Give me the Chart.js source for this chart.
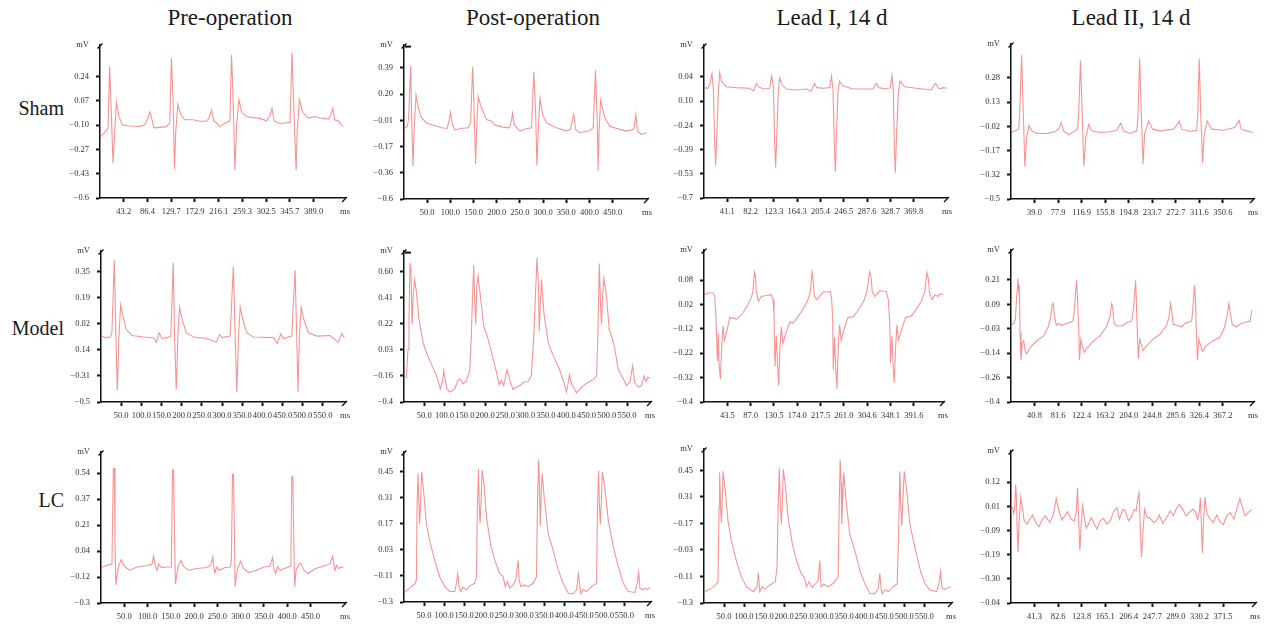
<!DOCTYPE html>
<html><head><meta charset="utf-8">
<script src="https://cdn.jsdelivr.net/npm/chart.js@4.4.1/dist/chart.umd.min.js"></script>
<style>
html,body{margin:0;padding:0;background:#fff;}
body{width:1265px;height:633px;position:relative;overflow:hidden;font-family:"Liberation Serif","Times New Roman",serif;color:#1a1a1a;}
.title{position:absolute;top:5px;font-size:23px;line-height:26px;white-space:nowrap;transform:translateX(-50%);}
.row{position:absolute;left:0;width:64px;text-align:right;font-size:20px;line-height:22px;white-space:nowrap;}
.panel{position:absolute;}
</style></head>
<body>
<script>
// ---------- text ----------
const columnTitles = ['Pre-operation','Post-operation','Lead I, 14 d','Lead II, 14 d'];
const groupNames = ['Sham','Model','LC'];

// ---------- tick labels ----------
const x50to450 = ['50.0','100.0','150.0','200.0','250.0','300.0','350.0','400.0','450.0'];
const x50to550 = ['50.0','100.0','150.0','200.0','250.0','300.0','350.0','400.0','450.0','500.0','550.0'];
const xShamPre = ['43.2','86.4','129.7','172.9','216.1','259.3','302.5','345.7','389.0'];
const xShamLeadI = ['41.1','82.2','123.3','164.3','205.4','246.5','287.6','328.7','369.8'];
const xShamLeadII = ['39.0','77.9','116.9','155.8','194.8','233.7','272.7','311.6','350.6'];
const xModelLeadI = ['43.5','87.0','130.5','174.0','217.5','261.0','304.6','348.1','391.6'];
const xModelLeadII = ['40.8','81.6','122.4','163.2','204.0','244.8','285.6','326.4','367.2'];
const xLcLeadII = ['41.3','82.6','123.8','165.1','206.4','247.7','289.0','330.2','371.5'];

const yShamPre = ['\u22120.6','\u22120.43','\u22120.27','\u22120.10','0.07','0.24'];
const yShamPost = ['\u22120.6','\u22120.36','\u22120.17','\u22120.01','0.20','0.39'];
const yShamLeadI = ['\u22120.7','\u22120.53','\u22120.39','\u22120.24','0.10','0.04'];
const yShamLeadII = ['\u22120.5','\u22120.32','\u22120.17','\u22120.02','0.13','0.28'];
const yModelPre = ['\u22120.5','\u22120.31','0.14','0.02','0.19','0.35'];
const yModelPost = ['\u22120.4','\u22120.16','0.03','0.22','0.41','0.60'];
const yModelLeadI = ['\u22120.4','\u22120.32','\u22120.22','\u22120.12','0.02','0.08'];
const yModelLeadII = ['\u22120.4','\u22120.26','\u22120.14','\u22120.03','0.09','0.21'];
const yLcPre = ['\u22120.3','\u22120.12','0.04','0.21','0.37','0.54'];
const yLcPost = ['\u22120.3','\u22120.11','0.03','0.17','0.31','0.45'];
const yLcLeadI = ['\u22120.3','\u22120.11','\u22120.03','\u22120.17','0.31','0.45'];
const yLcLeadII = ['\u22120.04','\u22120.30','\u22120.19','\u22120.09','0.01','0.12'];

// ---------- traces: [ms, mV] ----------
const shamPre = [[0,-0.18],[11.6,-0.135],[14.6,-0.12],[17.6,0.31],[20.7,-0.02],[23.7,-0.36],[26,-0.2],[29.8,0.06],[34.7,-0.04],[40.7,-0.096],[54,-0.103],[72,-0.105],[81.5,-0.094],[87.5,-0.044],[90.6,-0.005],[94,-0.048],[98,-0.116],[109,-0.112],[121,-0.107],[124,-0.095],[127,-0.085],[130,0.365],[133,0.09],[135.6,-0.40],[138,-0.135],[141.7,0.047],[146.5,-0.02],[154,-0.06],[169.6,-0.06],[181.8,-0.07],[194,-0.07],[199,-0.044],[203,0.008],[207,-0.067],[212,-0.08],[218,-0.107],[227,-0.085],[236.5,-0.067],[239.5,0.39],[242.5,0.047],[245.6,-0.407],[248.7,-0.09],[253,0.08],[258,-0.01],[267,-0.039],[291,-0.05],[303,-0.067],[309.5,-0.03],[313,0.02],[317,-0.067],[327.7,-0.085],[346,-0.078],[349.6,0.405],[353,0],[357,-0.407],[359,-0.135],[363,0.08],[369,-0.01],[379.5,-0.048],[391.5,-0.037],[400.7,-0.048],[416,-0.055],[420.7,-0.02],[423.8,0.02],[427.4,-0.062],[434,-0.067],[438,-0.09],[443,-0.105]];
const shamPost = [[0,-0.067],[7.2,-0.05],[10,0.01],[14.4,0.404],[17.2,-0.087],[19.4,-0.354],[22.3,-0.037],[25.9,0.186],[30.9,0.087],[38,0.013],[48.8,-0.025],[63,-0.042],[81,-0.062],[93,-0.067],[97.7,0],[100.5,0.055],[104,-0.037],[110,-0.079],[120.7,-0.067],[138.6,-0.062],[143.7,-0.025],[148,0.397],[149.4,0.285],[151.5,0.037],[154.4,-0.335],[156.6,-0.087],[160,0.174],[167,0.087],[178,0],[189,-0.012],[196,-0.042],[214,-0.057],[228,-0.062],[232,0],[234,0.05],[238,-0.042],[250,-0.087],[264,-0.069],[275,-0.062],[280,0.36],[284,0.037],[286.6,-0.347],[289.5,-0.087],[293,0.161],[299,0.037],[307.5,-0.025],[329,-0.062],[350.6,-0.087],[359,-0.074],[363.5,0],[366,0.042],[370,-0.074],[379,-0.099],[400.7,-0.082],[408,-0.062],[413,0.372],[416.5,0.013],[418.6,-0.384],[420.7,-0.087],[424,0.149],[433,0.013],[443.7,-0.05],[465.5,-0.074],[480,-0.087],[495.7,-0.074],[500,0.037],[503.6,-0.087],[512,-0.111],[523,-0.099]];
const shamLeadI = [[0,-0.026],[7,-0.03],[10,-0.01],[14,0.06],[16.5,-0.03],[18.8,-0.35],[20.6,-0.5],[23,-0.29],[25.3,-0.05],[27.6,0.066],[31,0.01],[39.4,-0.02],[57,-0.026],[80.6,-0.03],[87.6,-0.046],[92.3,0],[96.4,-0.02],[104,-0.034],[115.8,-0.03],[119.4,0.046],[122.3,-0.02],[124.7,-0.35],[126.4,-0.514],[128.8,-0.29],[131,-0.06],[133.5,0.034],[138,-0.01],[145,-0.034],[163,-0.04],[180.5,-0.034],[189,-0.046],[195,0],[199,-0.026],[210,-0.03],[221.7,-0.026],[225,0.046],[227.6,-0.04],[230,-0.37],[231.7,-0.54],[234,-0.29],[236.4,-0.05],[239.3,0.014],[245,-0.014],[263,-0.034],[286,-0.034],[298,-0.034],[304,0],[308.7,-0.026],[321.6,-0.034],[328.7,-0.026],[331.6,0.05],[334,-0.04],[335.7,-0.37],[337.5,-0.546],[340,-0.29],[343,-0.05],[346,0.014],[354,-0.02],[374.6,-0.03],[401,-0.04],[404,-0.02],[408.7,0],[412.8,-0.026],[417,-0.034],[421.6,-0.026],[428.7,-0.03]];
const shamLeadII = [[0,-0.072],[7,-0.061],[12.7,-0.05],[14.3,0.044],[17.6,0.428],[20.4,0.044],[23,-0.293],[25.9,-0.103],[29.7,-0.025],[34.7,-0.061],[43,-0.078],[59.4,-0.078],[73.2,-0.065],[78.7,-0.05],[83,-0.008],[87,-0.061],[95,-0.086],[106,-0.061],[110,-0.05],[112,0.044],[115,0.393],[117.8,0.044],[120.5,-0.289],[123.8,-0.103],[128.7,-0.019],[133.7,-0.061],[147.5,-0.072],[164,-0.067],[175,-0.057],[181.6,-0.013],[186,-0.061],[197,-0.078],[208,-0.061],[210,0.023],[212.9,0.403],[215.7,0.044],[218.5,-0.276],[221,-0.082],[227.8,0.002],[234.4,-0.05],[246.6,-0.061],[268.6,-0.05],[274,-0.025],[278.4,0.002],[282.4,-0.05],[296,-0.065],[307,-0.057],[309,0.044],[311.5,0.403],[314,0.044],[317,-0.268],[319.7,-0.082],[324.7,0.002],[332,-0.05],[351,-0.057],[370,-0.04],[377.5,0.006],[381,-0.05],[389.6,-0.061],[400.4,-0.072]];
const modelPre = [[0,-0.066],[10.7,-0.08],[23,-0.076],[27,-0.048],[33,0.425],[37,-0.07],[40.4,-0.425],[44.5,-0.07],[48.7,0.134],[54.5,0.059],[62.7,-0.027],[76.7,-0.066],[105.6,-0.076],[130,-0.08],[137,-0.109],[144,-0.048],[151,-0.087],[163,-0.08],[173,-0.07],[179,0.407],[182.3,-0.07],[186.5,-0.418],[190.6,-0.07],[194.7,0.119],[200.5,0.048],[211,-0.048],[229,-0.076],[262,-0.085],[285.5,-0.109],[293.7,-0.059],[300,-0.08],[320,-0.07],[328,0.386],[332.5,-0.07],[336.6,-0.435],[340.7,-0.07],[345,0.119],[350.6,0.048],[361,-0.048],[378,-0.076],[427,-0.08],[437,-0.117],[445.5,-0.055],[452,-0.087],[472.7,-0.07],[481,0.36],[485,-0.07],[488.4,-0.435],[491.7,-0.07],[496,0.119],[501.6,0.048],[514,-0.048],[534.6,-0.07],[567.6,-0.066],[588,-0.109],[596.5,-0.053],[603,-0.08]];
const modelPost = [[0,-0.175],[5.8,-0.175],[9.9,0.029],[12.3,0.245],[14.8,0.658],[17.3,0.605],[19.8,0.209],[23,0.437],[26.3,0.533],[30.5,0.449],[37,0.245],[47,0.077],[55,0.005],[67.5,-0.079],[80,-0.163],[89.7,-0.259],[94.6,-0.211],[98,-0.127],[101,-0.187],[106,-0.264],[114.4,-0.283],[125,-0.259],[133,-0.199],[137.4,-0.187],[145.7,-0.223],[154,-0.199],[162,-0.127],[166,0.125],[169.5,0.461],[172,0.641],[174.5,0.365],[177,0.209],[179.4,0.485],[182.7,0.562],[188.5,0.413],[196.7,0.197],[207.4,0.101],[218,-0.019],[228,-0.139],[234.6,-0.23],[240,-0.199],[246,-0.235],[254,-0.12],[261,-0.199],[269,-0.264],[277,-0.247],[285.6,-0.235],[295.5,-0.211],[306,-0.206],[314,-0.163],[320,0.125],[325,0.485],[328,0.696],[331.7,0.485],[333.4,0.161],[336.6,0.389],[339,0.538],[345,0.293],[355.5,0.077],[368,-0.019],[383,-0.115],[394,-0.211],[400.8,-0.283],[405,-0.211],[408,-0.158],[413,-0.223],[425.5,-0.288],[437.8,-0.247],[454,-0.211],[466.6,-0.192],[475,-0.163],[478,0.125],[481.5,0.653],[484.8,0.341],[487,0.209],[489.7,0.413],[493,0.545],[499.5,0.413],[506,0.173],[514,0.101],[520,0.029],[528,-0.115],[540.7,-0.187],[549,-0.235],[557,-0.211],[563.7,-0.091],[568.7,-0.211],[577.7,-0.247],[586,-0.235],[591.7,-0.163],[596.7,-0.206],[601.6,-0.175],[606.5,-0.182]];
const modelLeadI = [[0,0.024],[7.5,0.031],[16.8,0.031],[20,0.017],[21.8,-0.043],[23.6,-0.149],[25,-0.249],[26.7,-0.136],[28,-0.256],[30.5,-0.323],[33,-0.189],[35.5,-0.103],[38,-0.163],[41.7,-0.136],[48,-0.069],[54,-0.072],[61.6,-0.076],[72.8,-0.05],[82,-0.016],[88,0.011],[91.4,0.037],[94,0.117],[95.8,0.104],[97.7,0.037],[101.4,-0.003],[107,0.017],[116,0.021],[125.6,0.024],[128.8,0.004],[130.6,-0.056],[132.5,-0.269],[135,-0.143],[137.5,-0.276],[139.3,-0.349],[141.8,-0.189],[144.3,-0.109],[147.4,-0.176],[152.4,-0.136],[160,-0.089],[166,-0.093],[172,-0.076],[184.7,-0.036],[194,0.004],[198.4,0.037],[201.5,0.117],[203.4,0.091],[206,0.017],[211,0.004],[222,0.035],[235.7,0.037],[238,0.011],[240,-0.069],[241.3,-0.283],[243.8,-0.149],[246.3,-0.296],[248,-0.363],[250.7,-0.189],[253,-0.099],[256,-0.163],[260.6,-0.123],[268.7,-0.069],[278,-0.067],[287,-0.043],[298,-0.003],[304,0.037],[309,0.117],[311.6,0.097],[314,0.037],[318.6,0.017],[328,0.04],[340,0.037],[344,0.004],[346.5,-0.083],[348,-0.256],[350.6,-0.143],[353,-0.269],[355,-0.336],[357.6,-0.189],[360,-0.099],[362.6,-0.163],[368,-0.123],[376.3,-0.069],[387,-0.063],[396,-0.036],[405.5,-0.003],[412,0.037],[416,0.115],[418.6,0.091],[421,0.031],[426,0.004],[431,0.024],[436.7,0.017],[440,0.027],[446,0.024]];
const modelLeadII = [[0,-0.007],[4.6,-0.003],[7.5,0.017],[9.2,0.097],[12,0.218],[13.2,0.162],[14.4,0.186],[15.6,-0.048],[17.3,-0.184],[19.6,-0.096],[22,-0.088],[24.8,-0.144],[27.6,-0.152],[33.4,-0.12],[45,-0.088],[56.4,-0.064],[65,-0.015],[69,0.033],[71.4,0.089],[73,0.097],[75.5,0.033],[78.3,-0.012],[82.4,-0.003],[88,-0.012],[99.6,0.001],[107,0.009],[109.4,0.049],[113.5,0.21],[115.2,0.13],[117.5,-0.048],[118.7,-0.184],[121,-0.08],[123.3,-0.112],[126.7,-0.144],[131.3,-0.125],[142.8,-0.088],[154.4,-0.064],[166,-0.015],[171.6,0.033],[174.5,0.094],[176,0.081],[178.6,-0.003],[183,-0.015],[192,-0.015],[200.5,0.001],[209,0.009],[212,0.065],[216,0.21],[218.3,0.001],[220.6,-0.176],[223,-0.08],[225,-0.096],[229,-0.136],[235,-0.112],[246.5,-0.08],[258,-0.056],[269.6,-0.012],[274,0.033],[276.5,0.094],[279,0.049],[281,-0.007],[287,-0.012],[295.5,-0.019],[301.4,-0.003],[313,0.009],[314.5,0.049],[318,0.186],[319.7,0.097],[321.4,-0.064],[323,-0.184],[325.4,-0.08],[327,-0.096],[331.6,-0.141],[338.5,-0.112],[350,-0.088],[361.7,-0.072],[370,-0.023],[374.6,0.041],[377.5,0.094],[379.8,0.049],[383.3,-0.007],[390.5,-0.019],[399,-0.003],[407.8,0.004],[414.7,0.009],[417,0.062]];
const lcPre = [[0,-0.072],[12.9,-0.057],[21.5,-0.051],[23.6,-0.026],[26.5,0.565],[28.6,0.565],[30,0.101],[32,-0.184],[35,-0.11],[38.6,-0.057],[43.6,-0.021],[48.6,-0.057],[55.8,-0.078],[63,-0.089],[77,-0.068],[98.7,-0.059],[109.4,-0.051],[113,0],[116.5,-0.057],[120,-0.089],[124.4,-0.051],[129.4,-0.072],[141.6,-0.068],[151,-0.068],[153.7,0.555],[156,0.555],[158,0.101],[160,-0.178],[163,-0.11],[166.6,-0.057],[171.6,-0.026],[177.3,-0.064],[188,-0.089],[206,-0.078],[227,-0.072],[236,-0.057],[240,-0.005],[244,-0.106],[249,-0.068],[254,-0.089],[266.7,-0.072],[277.4,-0.068],[280,-0.026],[282.4,0.527],[284.6,0.527],[286.7,0.101],[288,-0.195],[291.7,-0.1],[295.3,-0.064],[299.6,-0.03],[306,-0.078],[316.7,-0.104],[334.6,-0.089],[349,-0.068],[363,-0.064],[368,-0.009],[372,-0.093],[375,-0.11],[379,-0.064],[384.7,-0.089],[399,-0.072],[407.6,-0.064],[409.7,0.512],[412,0.512],[414,0.101],[416,-0.195],[419,-0.089],[424,-0.057],[429,-0.043],[436,-0.089],[445.5,-0.11],[460,-0.078],[477.6,-0.064],[492,-0.047],[497.6,0],[502,-0.089],[506,-0.057],[510,-0.078],[517,-0.068],[520.5,-0.072]];
const lcPost = [[1.7,-0.194],[14,-0.171],[26.7,-0.149],[31,-0.128],[32.5,0.258],[35,0.441],[37.5,0.258],[39,0.17],[41,0.258],[44,0.45],[49,0.345],[56,0.17],[64,0.083],[76.7,-0.023],[89,-0.11],[101.6,-0.163],[114,-0.189],[126.6,-0.189],[131,-0.145],[134,-0.093],[137.5,-0.163],[141.7,-0.189],[147.5,-0.166],[156,-0.18],[164,-0.159],[176.7,-0.145],[181,-0.11],[183,0.258],[186,0.464],[188,0.258],[190,0.174],[192.4,0.293],[195,0.459],[200,0.38],[206,0.205],[216,0.065],[226.6,-0.023],[239,-0.093],[247.5,-0.11],[252.5,-0.163],[258,-0.136],[264,-0.171],[272.4,-0.154],[279,-0.128],[285,-0.023],[287.4,-0.128],[291.6,-0.163],[299,-0.154],[310,-0.163],[322.5,-0.145],[330.7,-0.11],[333,0.258],[336,0.517],[338,0.398],[340,0.161],[342.4,0.328],[345,0.441],[350,0.31],[360,0.118],[372.5,0.03],[385,-0.075],[397.5,-0.145],[410,-0.198],[422,-0.201],[431,-0.18],[435,-0.096],[439,-0.163],[441.5,-0.201],[447.3,-0.18],[455.6,-0.189],[468,-0.163],[480.6,-0.145],[483,0.258],[485.6,0.454],[488,0.258],[490,0.17],[492.5,0.293],[495,0.45],[501.6,0.363],[510,0.188],[522.5,0.048],[535,-0.058],[547.3,-0.145],[560,-0.189],[576.4,-0.194],[582.3,-0.145],[585.6,-0.089],[589,-0.171],[595.6,-0.18],[601.5,-0.171],[607.5,-0.18],[614,-0.166]];
const lcLeadI = [[1.7,-0.19],[14,-0.178],[26.7,-0.161],[35,-0.138],[37.5,0.251],[39,0.438],[41.6,0.251],[43.3,0.173],[45,0.251],[47.5,0.445],[53.3,0.338],[60,0.182],[68.3,0.078],[80.8,-0.026],[93.3,-0.112],[105.8,-0.164],[122.5,-0.19],[132.4,-0.164],[135.8,-0.091],[139,-0.19],[145,-0.164],[151.6,-0.178],[164,-0.156],[178,-0.138],[182.4,-0.06],[185,0.251],[188,0.462],[190.8,0.251],[193,0.168],[195.8,0.286],[198,0.455],[203,0.372],[210,0.199],[220.7,0.061],[230.7,-0.026],[243,-0.095],[251.6,-0.121],[255.7,-0.164],[262.4,-0.138],[270.7,-0.168],[279,-0.147],[285,-0.13],[289,-0.026],[292.4,-0.164],[299,-0.151],[310,-0.164],[322.4,-0.147],[335,-0.112],[337.4,0.251],[340,0.507],[342.4,0.389],[344,0.165],[346.5,0.32],[349,0.438],[354,0.303],[364,0.113],[376.5,0.026],[389,-0.078],[401.5,-0.147],[414,-0.199],[426.5,-0.202],[435,-0.173],[439,-0.095],[442.3,-0.173],[445,-0.202],[451.7,-0.181],[460,-0.19],[472.4,-0.164],[482.3,-0.15],[485.6,0.078],[489,0.445],[491.5,0.251],[494,0.156],[496.5,0.286],[500,0.445],[505.6,0.355],[514,0.165],[526.5,0.043],[539,-0.069],[551.5,-0.147],[564,-0.181],[580.6,-0.19],[587,-0.147],[590.6,-0.086],[594,-0.173],[601.4,-0.178],[607,-0.173],[616.4,-0.164]];
const lcLeadII = [[0,0.013],[2.9,0.006],[4.7,-0.019],[6.4,-0.001],[8.2,0.104],[9.3,0.062],[11,-0.106],[12.2,-0.183],[14,-0.064],[17,0.051],[20,0.006],[23,-0.05],[28,-0.064],[32.7,-0.043],[38,-0.025],[43,-0.057],[49,-0.075],[55,-0.043],[60.6,-0.029],[67.6,-0.057],[73.5,-0.029],[79.3,0.045],[84,-0.008],[89,-0.047],[94.5,-0.029],[99,-0.011],[105,-0.043],[110.8,-0.05],[114.3,-0.015],[116.6,0.09],[119,-0.078],[120.7,-0.176],[123,-0.064],[125.4,0.013],[128.3,-0.036],[131.8,-0.081],[136,-0.064],[140.5,-0.036],[144.6,-0.057],[150.5,-0.085],[156,-0.05],[162,-0.039],[168,-0.064],[173.8,-0.05],[179.6,-0.011],[185.4,0.006],[190,-0.043],[196,-0.001],[200,-0.008],[206,-0.05],[211.6,-0.029],[215.7,-0.001],[219.2,-0.008],[222,0.041],[224.5,0.069],[226.8,-0.092],[228.6,-0.204],[231,-0.106],[234,-0.001],[238,-0.033],[243.8,-0.039],[249.6,-0.057],[255.4,-0.047],[260,-0.025],[265.4,-0.061],[271,-0.043],[278.8,-0.008],[284.5,-0.029],[289,-0.001],[295,0.02],[301,-0.001],[306.7,-0.029],[312.6,-0.015],[318.4,-0.001],[323,-0.011],[327,-0.043],[330,-0.008],[331.8,0.048],[333.5,-0.064],[335.3,-0.187],[337.6,-0.036],[340,0.051],[343,-0.015],[347.5,-0.039],[354.5,-0.057],[360.4,-0.025],[366,-0.053],[372,-0.067],[378,-0.029],[383.8,-0.015],[390.6,-0.043],[396.4,0.006],[401,0.045],[405.8,0.006],[410,-0.029],[415.7,-0.015],[421.5,-0.001]];

// ---------- layout of the 12 panels (axis box in page pixels) ----------
const panels = [
 {box:[100,43,345,198], data:shamPre,    xMax:446,   xStep:43.22, xLab:xShamPre,     yMin:-0.6,   yStep:0.168, yMax:0.456, yLab:yShamPre},
 {box:[404,43,647,199], data:shamPost,   xMax:524,   xStep:50,    xLab:x50to450,     yMin:-0.6,   yStep:0.198, yMax:0.563, yLab:yShamPost, topTick:true},
 {box:[704,43,947,198], data:shamLeadI,  xMax:428.7, xStep:41.09, xLab:xShamLeadI,   yMin:-0.7,   yStep:0.148, yMax:0.234, yLab:yShamLeadI},
 {box:[1011,42,1253,199],data:shamLeadII,xMax:400.4, xStep:38.96, xLab:xShamLeadII,  yMin:-0.5,   yStep:0.156, yMax:0.498, yLab:yShamLeadII},
 {box:[101,249,345,402], data:modelPre,  xMax:604.7, xStep:50,    xLab:x50to550,     yMin:-0.5,   yStep:0.17,  yMax:0.485, yLab:yModelPre},
 {box:[404,249,650,402], data:modelPost, xMax:606.6, xStep:50,    xLab:x50to550,     yMin:-0.355, yStep:0.19,  yMax:0.744, yLab:yModelPost, topTick:true},
 {box:[704,248,943,402], data:modelLeadI,xMax:446,   xStep:43.51, xLab:xModelLeadI,  yMin:-0.416, yStep:0.1,   yMax:0.207, yLab:yModelLeadI},
 {box:[1011,248,1253,402],data:modelLeadII,xMax:419.3,xStep:40.8, xLab:xModelLeadII, yMin:-0.389, yStep:0.12,  yMax:0.358, yLab:yModelLeadII},
 {box:[101,450,345,603], data:lcPre,     xMax:524,   xStep:50,    xLab:x50to450,     yMin:-0.3,   yStep:0.167, yMax:0.671, yLab:yLcPre},
 {box:[404,450,650,602], data:lcPost,    xMax:614,   xStep:50,    xLab:x50to550,     yMin:-0.245, yStep:0.139, yMax:0.555, yLab:yLcPost},
 {box:[704,447,951,603], data:lcLeadI,   xMax:616.7, xStep:50,    xLab:x50to550,     yMin:-0.25,  yStep:0.14,  yMax:0.562, yLab:yLcLeadI},
 {box:[1011,449,1255,603],data:lcLeadII, xMax:427.5, xStep:41.28, xLab:xLcLeadII,    yMin:-0.40,  yStep:0.103, yMax:0.247, yLab:yLcLeadII}
];
const titleCenters = [230,533,832,1131];
const rowCenters = [108,328,500];

// ---------- text ----------
columnTitles.forEach((t,i)=>{const d=document.createElement('div');d.className='title';d.style.left=titleCenters[i]+'px';d.textContent=t;document.body.appendChild(d);});
groupNames.forEach((t,i)=>{const d=document.createElement('div');d.className='row';d.style.top=(rowCenters[i]-11)+'px';d.textContent=t;document.body.appendChild(d);});

// ---------- axis-end slashes ----------
const axisEnds = {
  id:'axisEnds',
  afterDraw(chart, args, opts){
    const a = chart.chartArea, ctx = chart.ctx;
    ctx.save(); ctx.strokeStyle = '#111'; ctx.lineWidth = 1.4; ctx.beginPath();
    ctx.moveTo(a.left-2.5, a.top+3.5); ctx.lineTo(a.left+2.5, a.top-1.5);
    ctx.moveTo(a.right-3, a.bottom+4); ctx.lineTo(a.right+2, a.bottom-1);
    ctx.stroke();
    if (opts.topTick){ ctx.lineWidth = 2; ctx.beginPath(); ctx.moveTo(a.left+1, a.top+1.5); ctx.lineTo(a.left+7, a.top+1.5); ctx.stroke(); }
    ctx.restore();
  }
};

const FONT = {family:'"Liberation Serif","Times New Roman",serif', size:8.5};
const padL = 48, padT = 10, padR = 14, padB = 26;

panels.forEach(p=>{
  const [l,t,r,b] = p.box;
  const W = (r-l)+padL+padR, H = (b-t)+padT+padB;
  const div = document.createElement('div');
  div.className='panel'; div.style.left=(l-padL)+'px'; div.style.top=(t-padT)+'px';
  div.style.width=W+'px'; div.style.height=H+'px';
  const cv = document.createElement('canvas'); cv.width=W; cv.height=H; cv.style.width=W+'px'; cv.style.height=H+'px';
  div.appendChild(cv); document.body.appendChild(div);
  const nx = p.xLab.length, ny = p.yLab.length;
  new Chart(cv.getContext('2d'), {
    type:'line',
    data:{datasets:[{data:p.data.map(d=>({x:d[0],y:d[1]})), borderColor:'rgba(240,70,70,0.58)', borderWidth:1.1, pointRadius:0, tension:0, fill:false}]},
    options:{
      responsive:false, animation:false, events:[],
      layout:{padding:{left:0,top:padT,right:padR,bottom:0}},
      plugins:{legend:{display:false}, tooltip:{enabled:false}, axisEnds:{topTick:!!p.topTick}},
      scales:{
        x:{type:'linear', min:0, max:p.xMax,
           afterBuildTicks:s=>{ s.ticks = p.xLab.map((_,i)=>({value:(i+1)*p.xStep})).concat([{value:p.xMax}]); },
           afterFit:s=>{ s.height = padB; },
           ticks:{autoSkip:false, maxRotation:0, minRotation:0, padding:5, color:'#333', font:FONT,
                  callback:(v,i)=> i<nx ? p.xLab[i] : 'ms'},
           grid:{display:true, drawOnChartArea:false, drawTicks:true, tickLength:4, tickWidth:2,
                 tickColor:c=> c.index<nx ? '#111' : 'rgba(0,0,0,0)'},
           border:{display:true, color:'#111', width:1.5}},
        y:{type:'linear', min:p.yMin, max:p.yMax,
           afterBuildTicks:s=>{ s.ticks = p.yLab.map((_,i)=>({value:p.yMin+i*p.yStep})).concat([{value:p.yMax}]); },
           afterFit:s=>{ s.width = padL; },
           ticks:{autoSkip:false, padding:7, color:'#333', font:FONT,
                  callback:(v,i)=> i<ny ? p.yLab[i] : 'mV'},
           grid:{display:true, drawOnChartArea:false, drawTicks:true, tickLength:4, tickWidth:2,
                 tickColor:c=> c.index<ny ? '#111' : 'rgba(0,0,0,0)'},
           border:{display:true, color:'#111', width:1.5}}
      }
    },
    plugins:[axisEnds]
  });
});
</script>
</body></html>
